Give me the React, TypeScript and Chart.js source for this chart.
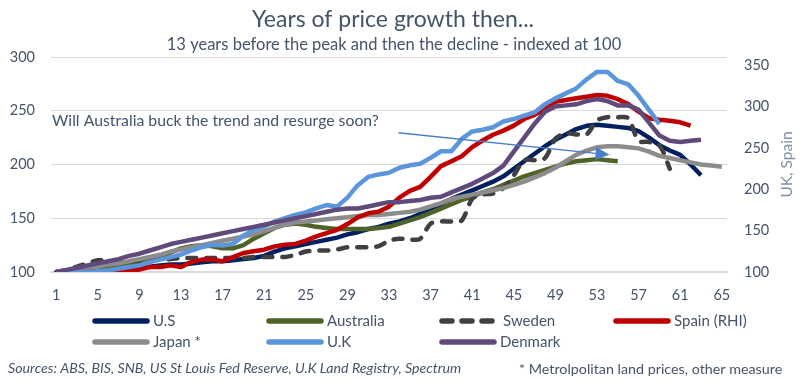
import React, { useEffect, useRef } from "react";
import { Chart, registerables } from "chart.js";

Chart.register(...registerables);

// ---------- DATA ----------
const categories = [
  "1","2","3","4","5","6","7","8","9","10","11","12","13","14","15","16","17","18","19","20",
  "21","22","23","24","25","26","27","28","29","30","31","32","33","34","35","36","37","38","39","40",
  "41","42","43","44","45","46","47","48","49","50","51","52","53","54","55","56","57","58","59","60",
  "61","62","63","64","65",
];
const xTickLabels = ["1","5","9","13","17","21","25","29","33","37","41","45","49","53","57","61","65"];
const leftTicks = [100, 150, 200, 250, 300];
const rightTicks = [100, 150, 200, 250, 300, 350];

const usValues = [100,100,100,100,101,102,103,104,105,105,106,107,107,108,109,110,110,111,112,113,
  115,119,122,124,126,128,130,132,135,137,140,142,145,147,150,154,157,163,168,172,
  176,180,184,189,196,203,210,217,223,228,233,236,237,236,235,234,231,225,218,213,
  209,200,190];
const australiaValues = [100,100,101,101,102,103,105,107,109,111,114,118,122,124,125,124,122,122,125,131,
  136,141,144,145,144,142,141,140,140,140,140,141,142,145,148,151,155,159,163,167,
  170,174,177,181,185,189,192,195,198,201,203,204,205,204,203];
const swedenValues = [100,102,105,108,111,110,110,110,111,111,112,112,113,113,113,113,113,113,113,114,
  114,114,114,116,119,120,120,121,123,123,123,124,129,131,130,131,145,147,147,148,
  168,172,173,178,190,204,204,206,224,229,228,228,241,244,244,243,222,221,218,196];
const spainValues = [100,100,100,100,100,100,101,101,103,106,106,108,106,112,115,115,113,118,123,125,
  127,131,133,134,138,143,147,151,158,166,171,173,179,190,198,203,215,228,234,240,
  251,259,266,271,277,285,290,297,306,308,310,312,314,313,309,303,294,286,284,283,
  281,277];
const japanValues = [100,101,102,104,105,107,108,110,112,114,116,119,121,123,125,127,129,131,133,135,
  138,141,144,146,147,148,149,150,151,152,153,153,154,155,156,158,161,164,168,170,
  172,174,176,178,181,184,188,192,197,203,209,213,216,217,217,216,215,212,208,206,
  204,202,200,199,198];
const ukValues = [100,100,100,100,101,102,104,106,108,112,115,118,121,126,130,133,132,134,144,151,
  155,161,165,169,172,177,181,179,190,205,215,218,220,226,229,231,238,246,246,261,
  270,272,275,282,285,289,293,303,310,316,322,333,342,342,331,327,313,296,279];
const denmarkValues = [100,102,104,106,108,110,112,115,117,120,123,126,128,130,132,134,136,138,140,142,
  144,146,148,150,152,154,156,158,159,159,161,163,165,165,166,167,169,170,174,178,
  182,187,192,199,212,225,238,249,254,255,256,259,261,259,255,255,251,239,227,222,
  221,222,223];

// annotation (category number, left-axis value)
const arrowStart = { x: 33.9, y: 229.5 };
const arrowEnd = { x: 54.2, y: 209 };
const annotationAnchor = { x: 0.6, y: 240.5 };

const titleText = "Years of price growth then...";
const subtitleText = "13 years before the peak and then the decline - indexed at 100";
const annotationText = "Will Australia buck the trend and resurge soon?";
const rightAxisTitle = "UK, Spain";
const sourcesText = "Sources: ABS, BIS, SNB, US St Louis Fed Reserve, U.K Land Registry, Spectrum";
const noteText = "* Metrolpolitan land prices, other measure";

const FONT = "Lato, 'Open Sans', sans-serif";
const TEXT = "#44546A";

type Series = {
  label: string;
  data: number[];
  color: string;
  axis: "y" | "y1";
  dash?: number[];
  order: number;
  tension?: number;
};

const series: Series[] = [
  { label: "U.S", data: usValues, color: "#002060", axis: "y", order: 7 },
  { label: "Australia", data: australiaValues, color: "#4F6228", axis: "y", order: 6 },
  { label: "Sweden", data: swedenValues, color: "#404040", axis: "y", dash: [9, 10], order: 5, tension: 0.3 },
  { label: "Spain (RHI)", data: spainValues, color: "#C00000", axis: "y1", order: 3 },
  { label: "Japan *", data: japanValues, color: "#8C8C8C", axis: "y", order: 4 },
  { label: "U.K", data: ukValues, color: "#5B95DB", axis: "y1", order: 2 },
  { label: "Denmark", data: denmarkValues, color: "#604A7B", axis: "y", order: 1 },
];

const overlayPlugin = {
  id: "overlay",
  afterDraw(chart: any) {
    const { ctx, chartArea, scales } = chart;
    const W = chart.width;
    ctx.save();

    // Title & subtitle
    ctx.fillStyle = TEXT;
    ctx.textAlign = "center";
    ctx.textBaseline = "middle";
    ctx.font = `23px ${FONT}`;
    ctx.fillText(titleText, W / 2 - 8, 20);
    ctx.font = `16.5px ${FONT}`;
    ctx.fillText(subtitleText, W / 2 - 7, 45);

    // Right axis title (rotated)
    ctx.save();
    ctx.translate(787, (chartArea.top + chartArea.bottom) / 2);
    ctx.rotate(-Math.PI / 2);
    ctx.fillStyle = "#7F8FA6";
    ctx.font = `15.5px ${FONT}`;
    ctx.fillText(rightAxisTitle, 0, 0);
    ctx.restore();

    // Annotation text
    const xs = scales.x;
    const ys = scales.y;
    ctx.textAlign = "left";
    ctx.font = `15.8px ${FONT}`;
    ctx.fillStyle = TEXT;
    ctx.fillText(
      annotationText,
      xs.getPixelForValue(annotationAnchor.x - 1),
      ys.getPixelForValue(annotationAnchor.y)
    );

    // Arrow
    const x0 = xs.getPixelForValue(arrowStart.x - 1);
    const y0 = ys.getPixelForValue(arrowStart.y);
    const x1 = xs.getPixelForValue(arrowEnd.x - 1);
    const y1 = ys.getPixelForValue(arrowEnd.y);
    const ang = Math.atan2(y1 - y0, x1 - x0);
    const headLen = 14;
    const headHalf = 6.5;
    const bx = x1 - headLen * Math.cos(ang);
    const by = y1 - headLen * Math.sin(ang);
    ctx.strokeStyle = "#4A7EC8";
    ctx.fillStyle = "#4A7EC8";
    ctx.lineWidth = 1.5;
    ctx.beginPath();
    ctx.moveTo(x0, y0);
    ctx.lineTo(bx, by);
    ctx.stroke();
    ctx.beginPath();
    ctx.moveTo(x1, y1);
    ctx.lineTo(bx + headHalf * Math.sin(ang), by - headHalf * Math.cos(ang));
    ctx.lineTo(bx - headHalf * Math.sin(ang), by + headHalf * Math.cos(ang));
    ctx.closePath();
    ctx.fill();

    // Legend
    const colX = [92, 266, 439, 613];
    const rowY = [321, 342];
    ctx.font = `15px ${FONT}`;
    ctx.textBaseline = "middle";
    series.forEach((s, k) => {
      const cx = colX[k % 4];
      const cy = rowY[Math.floor(k / 4)];
      ctx.save();
      ctx.strokeStyle = s.color;
      ctx.lineWidth = 5.5;
      ctx.lineCap = "round";
      if (s.dash) ctx.setLineDash([10, 10]);
      ctx.beginPath();
      ctx.moveTo(cx + 3, cy);
      ctx.lineTo(cx + 55, cy);
      ctx.stroke();
      ctx.restore();
      ctx.fillStyle = TEXT;
      ctx.fillText(s.label, cx + (s.dash ? 64 : 61), cy);
    });

    // Footnotes
    ctx.font = `italic 14.2px ${FONT}`;
    ctx.fillText(sourcesText, 8, 368);
    ctx.font = `14.3px ${FONT}`;
    ctx.fillText(noteText, 519, 369);

    ctx.restore();
  },
};

export default function App() {
  const canvasRef = useRef<HTMLCanvasElement | null>(null);

  useEffect(() => {
    document.body.style.margin = "0";
    const canvas = canvasRef.current;
    if (!canvas) return;

    const chart = new Chart(canvas, {
      type: "line",
      data: {
        labels: categories,
        datasets: series.map((s) => ({
          label: s.label,
          data: s.data,
          borderColor: s.color,
          backgroundColor: s.color,
          borderWidth: 4.5,
          borderDash: s.dash || [],
          borderCapStyle: s.dash ? "round" : "butt",
          borderJoinStyle: "round",
          pointRadius: 0,
          pointHoverRadius: 0,
          tension: s.tension || 0,
          fill: false,
          yAxisID: s.axis,
          order: s.order,
        })),
      },
      options: {
        animation: false,
        responsive: true,
        maintainAspectRatio: false,
        layout: { padding: { top: 57, left: 0, right: 0, bottom: 0 } },
        plugins: {
          legend: { display: false },
          title: { display: false },
          tooltip: { enabled: false },
        },
        scales: {
          x: {
            type: "category",
            offset: true,
            grid: { display: false, drawTicks: false },
            border: { display: true, color: "#D9D9D9", width: 2 },
            ticks: {
              autoSkip: false,
              maxRotation: 0,
              minRotation: 0,
              padding: 15,
              color: TEXT,
              font: { family: FONT, size: 14.5 },
              callback: (_v: any, i: number) =>
                xTickLabels.includes(categories[i]) ? categories[i] : "",
            },
            afterFit: (scale: any) => {
              scale.height = 117;
            },
          },
          y: {
            type: "linear",
            position: "left",
            min: leftTicks[0],
            max: leftTicks[leftTicks.length - 1],
            grid: { color: "#D9D9D9", lineWidth: 1, drawTicks: false },
            border: { display: false },
            ticks: {
              stepSize: 50,
              padding: 16,
              color: TEXT,
              font: { family: FONT, size: 14.5 },
            },
            afterBuildTicks: (scale: any) => {
              scale.ticks = leftTicks.map((v) => ({ value: v }));
            },
            afterFit: (scale: any) => {
              scale.width = 51;
            },
          },
          y1: {
            type: "linear",
            position: "right",
            min: 100,
            max: 360,
            grid: { display: false, drawTicks: false },
            border: { display: false },
            ticks: {
              stepSize: 50,
              padding: 17,
              color: TEXT,
              font: { family: FONT, size: 14.5 },
            },
            afterBuildTicks: (scale: any) => {
              scale.ticks = rightTicks.map((v) => ({ value: v }));
            },
            afterFit: (scale: any) => {
              scale.width = 75;
            },
          },
        },
      },
      plugins: [overlayPlugin],
    } as any);

    return () => {
      chart.destroy();
    };
  }, []);

  return (
    <div style={{ position: "absolute", left: 0, top: 0, width: 802, height: 389, background: "#fff" }}>
      <canvas ref={canvasRef} />
    </div>
  );
}
